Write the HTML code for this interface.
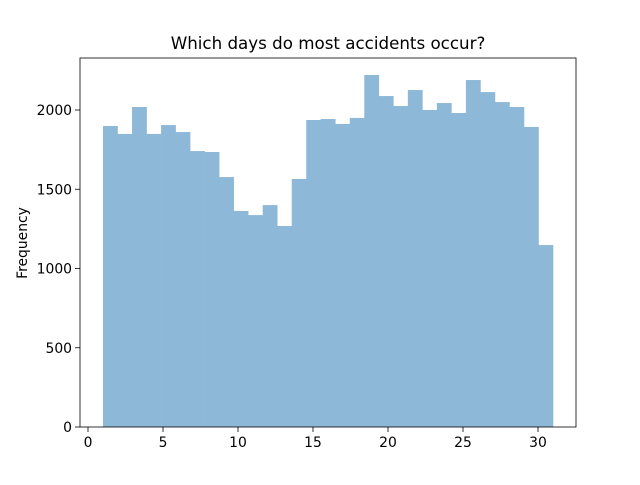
<!DOCTYPE html>
<html><head><meta charset="utf-8"><style>
body{margin:0;background:#fff;}
text{font-family:"DejaVu Sans","Liberation Sans",sans-serif;fill:#000;}
</style></head><body>
<svg id="chart" width="640" height="480" viewBox="0 0 640 480">
<rect width="640" height="480" fill="#fff"/>
<text x="328" y="49" font-size="16.7" text-anchor="middle">Which days do most accidents occur?</text>
<g id="bars"></g>
<g id="xt"></g>
<g id="yt"></g>
<rect x="80" y="58" width="496" height="369" fill="none" stroke="#000" stroke-width="0.8"/>
<text transform="translate(27,243) rotate(-90)" font-size="13.9" text-anchor="middle">Frequency</text>
</svg>
<script>
const counts=[1899,1849,2019,1849,1905,1861,1741,1735,1577,1363,1337,1400,1268,1565,1937,1943,1912,1950,2221,2088,2025,2126,2000,2044,1981,2189,2113,2050,2019,1893,1148];
const binStart=1, binEnd=31;
const xTicks=[0,5,10,15,20,25,30];
const yTicks=[0,500,1000,1500,2000];
const NS="http://www.w3.org/2000/svg";
const xs=v=>88+(v-0)*15;
const ys=v=>427-v*0.1585;
const bw=(binEnd-binStart)/counts.length;
const bg=document.getElementById('bars');
counts.forEach((c,i)=>{
 const r=document.createElementNS(NS,'rect');
 const x0=xs(binStart+i*bw), x1=xs(binStart+(i+1)*bw);
 r.setAttribute('x',x0);r.setAttribute('width',x1-x0+0.3);
 r.setAttribute('y',ys(c));r.setAttribute('height',ys(0)-ys(c));
 r.setAttribute('fill','#8db8d8');
 
 
 bg.appendChild(r);
});
const xg=document.getElementById('xt');
xTicks.forEach(t=>{
 const l=document.createElementNS(NS,'line');
 l.setAttribute('x1',xs(t));l.setAttribute('x2',xs(t));l.setAttribute('y1',427);l.setAttribute('y2',432);
 l.setAttribute('stroke','#000');l.setAttribute('stroke-width','0.8');
 
 
 xg.appendChild(l);
 const tx=document.createElementNS(NS,'text');
 tx.setAttribute('x',xs(t));tx.setAttribute('y',447);tx.setAttribute('font-size','13.9');tx.setAttribute('text-anchor','middle');
 tx.textContent=t;
 
 
 xg.appendChild(tx);
});
const yg=document.getElementById('yt');
yTicks.forEach(t=>{
 const l=document.createElementNS(NS,'line');
 l.setAttribute('x1',75);l.setAttribute('x2',80);l.setAttribute('y1',ys(t));l.setAttribute('y2',ys(t));
 l.setAttribute('stroke','#000');l.setAttribute('stroke-width','0.8');
 
 
 yg.appendChild(l);
 const tx=document.createElementNS(NS,'text');
 tx.setAttribute('x',72);tx.setAttribute('y',ys(t)+5);tx.setAttribute('font-size','13.9');tx.setAttribute('text-anchor','end');
 tx.textContent=t;
 
 
 yg.appendChild(tx);
});
</script>
</body></html>
